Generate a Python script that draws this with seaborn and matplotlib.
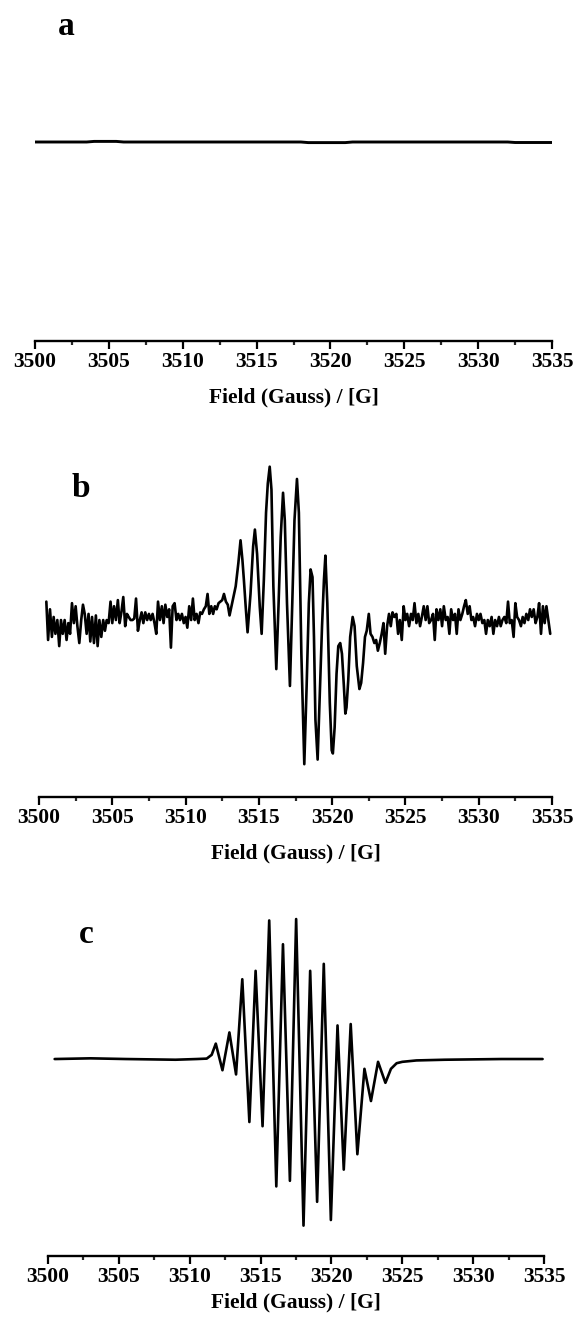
import matplotlib
matplotlib.use("Agg")
import matplotlib.pyplot as plt
import seaborn as sns
from matplotlib.ticker import MultipleLocator

# ---------------- data ----------------
# (a) control sample: flat trace
field_a = [3500.0, 3503.5, 3504.0, 3505.5, 3506.0, 3518.0, 3518.5,
           3521.0, 3521.5, 3532.0, 3532.5, 3535.0]
signal_a = [0.0, 0.0, 0.6, 0.6, 0.0, 0.0, -0.6, -0.6, 0.0, 0.0, -0.5, -0.5]

# (b) noisy spectrum: low-field baseline, hyperfine lines, high-field baseline
field_b_low = [
    3500.50, 3500.62, 3500.75, 3500.88, 3501.00, 3501.12, 3501.25, 3501.38, 3501.50, 3501.62,
    3501.75, 3501.88, 3502.00, 3502.12, 3502.25, 3502.38, 3502.50, 3502.62, 3502.75, 3502.88,
    3503.00, 3503.12, 3503.25, 3503.38, 3503.50, 3503.62, 3503.75, 3503.88, 3504.00, 3504.12,
    3504.25, 3504.38, 3504.50, 3504.62, 3504.75, 3504.88, 3505.00, 3505.12, 3505.25, 3505.38,
    3505.50, 3505.62, 3505.75, 3505.88, 3506.00, 3506.12, 3506.25, 3506.38, 3506.50, 3506.62,
    3506.75, 3506.88, 3507.00, 3507.12, 3507.25, 3507.38, 3507.50, 3507.62, 3507.75, 3507.88,
    3508.00, 3508.12, 3508.25, 3508.38, 3508.50, 3508.62, 3508.75, 3508.88, 3509.00, 3509.12,
    3509.25, 3509.38, 3509.50, 3509.62, 3509.75, 3509.88, 3510.00, 3510.12, 3510.25, 3510.38,
    3510.50, 3510.62, 3510.75, 3510.88, 3511.00, 3511.12, 3511.25, 3511.38, 3511.50, 3511.62,
    3511.75, 3511.88, 3512.00, 3512.12, 3512.25, 3512.38, 3512.50, 3512.62, 3512.75, 3512.88,
    3513.00]
signal_b_low = [
    12, -13, 7, -11, 2, -9, 0, -17, 0, -9,
    0, -13, -2, -9, 11, -2, 9, -4, -15, 0,
    10, 4, -9, 4, -14, 2, -15, 3, -17, 0,
    -11, 0, -7, 0, -2, 12, -2, 9, 0, 13,
    -2, 5, 15, -4, 4, 2, 0, 0, 1, 14,
    -7, 0, 5, -2, 5, 0, 4, 0, 4, -2,
    -9, 12, 0, 9, -2, 10, 2, 7, -18, 9,
    11, 0, 4, 0, 4, -2, 2, -5, 9, 0,
    14, 0, 4, -2, 5, 4, 7, 9, 17, 4,
    9, 4, 9, 7, 11, 12, 13, 17, 12, 10,
    3]

field_b_lines = [
    3513.42, 3513.60, 3513.75, 3513.88, 3513.98, 3514.10, 3514.23, 3514.43, 3514.61, 3514.73,
    3514.88, 3515.06, 3515.19, 3515.34, 3515.49, 3515.61, 3515.74, 3515.86, 3515.99, 3516.19,
    3516.34, 3516.49, 3516.65, 3516.77, 3516.92, 3517.12, 3517.28, 3517.43, 3517.60, 3517.73,
    3517.90, 3518.10, 3518.26, 3518.41, 3518.53, 3518.66, 3518.76, 3518.86, 3519.01, 3519.16,
    3519.31, 3519.44, 3519.54, 3519.67, 3519.84, 3519.97, 3520.05, 3520.17, 3520.30, 3520.42,
    3520.55, 3520.67, 3520.80, 3520.90, 3520.98, 3521.10, 3521.23, 3521.40, 3521.53, 3521.68,
    3521.86, 3521.98, 3522.11, 3522.24, 3522.36]
signal_b_lines = [
    22, 37, 52, 39, 26, 9, -8, 17, 48, 59,
    43, 9, -9, 26, 70, 89, 100, 85, 22, -32,
    9, 54, 83, 65, 11, -43, 11, 65, 92, 70,
    -22, -94, -43, 11, 33, 28, -11, -65, -91, -48,
    -4, 26, 42, 11, -54, -85, -87, -70, -35, -17,
    -15, -22, -43, -61, -57, -39, -11, 2, -4, -30,
    -45, -41, -28, -11, -7]

field_b_high = [
    3522.50, 3522.62, 3522.75, 3522.88, 3523.00, 3523.12, 3523.25, 3523.38, 3523.50, 3523.62,
    3523.75, 3523.88, 3524.00, 3524.12, 3524.25, 3524.38, 3524.50, 3524.62, 3524.75, 3524.88,
    3525.00, 3525.12, 3525.25, 3525.38, 3525.50, 3525.62, 3525.75, 3525.88, 3526.00, 3526.12,
    3526.25, 3526.38, 3526.50, 3526.62, 3526.75, 3526.88, 3527.00, 3527.12, 3527.25, 3527.38,
    3527.50, 3527.62, 3527.75, 3527.88, 3528.00, 3528.12, 3528.25, 3528.38, 3528.50, 3528.62,
    3528.75, 3528.88, 3529.00, 3529.12, 3529.25, 3529.38, 3529.50, 3529.62, 3529.75, 3529.88,
    3530.00, 3530.12, 3530.25, 3530.38, 3530.50, 3530.62, 3530.75, 3530.88, 3531.00, 3531.12,
    3531.25, 3531.38, 3531.50, 3531.62, 3531.75, 3531.88, 3532.00, 3532.12, 3532.25, 3532.38,
    3532.50, 3532.62, 3532.75, 3532.88, 3533.00, 3533.12, 3533.25, 3533.38, 3533.50, 3533.62,
    3533.75, 3533.88, 3534.00, 3534.12, 3534.25, 3534.38, 3534.50, 3534.62, 3534.75, 3534.88]
signal_b_high = [
    4, -9, -11, -15, -13, -20, -15, -9, -2, -22,
    -4, 4, -4, 5, 2, 4, -9, 0, -13, 9,
    0, 4, -4, 4, 0, 11, -2, 4, -4, 2,
    9, 0, 9, -2, 0, 4, -13, 7, 0, 7,
    -4, 9, 0, 2, -9, 7, 0, 4, -9, 7,
    0, 4, 9, 13, 4, 9, 0, 2, -4, 4,
    0, 4, -2, 0, -9, 0, -4, 2, -9, 0,
    -4, 2, -4, 0, 2, -2, 12, -2, 0, -11,
    11, 2, 0, -4, 2, -2, 4, 0, 7, 2,
    7, -2, 2, 11, -9, 9, -2, 9, 0, -9]

# (c) well-resolved spectrum
field_c = [
    3500.47, 3503.00, 3505.50, 3509.00, 3510.50, 3511.20, 3511.55, 3511.84, 3512.31, 3512.80,
    3513.27, 3513.71, 3514.21, 3514.65, 3515.14, 3515.61, 3516.11, 3516.58, 3517.07, 3517.51,
    3518.03, 3518.50, 3518.99, 3519.46, 3519.96, 3520.43, 3520.87, 3521.36, 3521.83, 3522.33,
    3522.79, 3523.29, 3523.81, 3524.20, 3524.60, 3525.00, 3526.00, 3528.00, 3532.00, 3534.90]
signal_c = [
    0.0, 0.5, 0.0, -0.5, 0.0, 0.3, 3, 11, -8, 19,
    -11, 57, -45, 63, -48, 99, -91, 82, -87, 100,
    -119, 63, -102, 68, -115, 24, -79, 25, -68, -7,
    -30, -2, -17, -7, -3, -2, -1, -0.5, 0.0, 0.0]

field_b = field_b_low + field_b_lines + field_b_high
signal_b = signal_b_low + signal_b_lines + signal_b_high

tick_values = [3500, 3505, 3510, 3515, 3520, 3525, 3530, 3535]
x_title = "Field (Gauss) / [G]"
panel_tags = ["a", "b", "c"]

# ---------------- style ----------------
sns.set_theme(style="white")
plt.rcParams["font.family"] = ["Liberation Serif", "DejaVu Serif"]
plt.rcParams["font.weight"] = "bold"
plt.rcParams["axes.labelweight"] = "bold"
plt.rcParams["lines.solid_joinstyle"] = "round"

W, H = 578, 1327
fig = plt.figure(figsize=(W / 100, H / 100), dpi=100)
fig.patch.set_facecolor("white")


def panel(left, right, top, bottom):
    return fig.add_axes([left / W, 1 - bottom / H, (right - left) / W, (bottom - top) / H])


def style_axis(ax, ylim, label_center_px, bottom_px, height_px):
    ax.set_xlim(3500, 3535)
    ax.set_ylim(*ylim)
    ax.set_xticks(tick_values)
    ax.set_xticklabels([str(t) for t in tick_values])
    ax.xaxis.set_minor_locator(MultipleLocator(2.5))
    ax.tick_params(axis="x", which="major", direction="out", length=5.5, width=1.6,
                   pad=2.5, labelsize=15.5, bottom=True, colors="black")
    ax.tick_params(axis="x", which="minor", direction="out", length=3, width=1.6, bottom=True)
    ax.set_yticks([])
    ax.set_ylabel("")
    for side in ["left", "top", "right"]:
        ax.spines[side].set_visible(False)
    ax.spines["bottom"].set_linewidth(1.7)
    ax.spines["bottom"].set_color("black")
    ax.set_facecolor("none")
    ax.set_xlabel(x_title, fontsize=15.5, fontweight="bold", color="black")
    ax.xaxis.set_label_coords(0.5, (bottom_px - label_center_px) / height_px)
    ax.xaxis.label.set_va("center")
    for lbl in ax.get_xticklabels():
        lbl.set_fontweight("bold")


# panel a
ax_a = panel(35, 552, 60, 341)
sns.lineplot(x=field_a, y=signal_a, ax=ax_a, color="black", lw=2.1,
             estimator=None, sort=False)
style_axis(ax_a, (-199, 82), 397, 341, 281)

# panel b
ax_b = panel(39, 552, 440, 797)
sns.lineplot(x=field_b, y=signal_b, ax=ax_b, color="black", lw=1.9,
             estimator=None, sort=False)
style_axis(ax_b, (-115.4, 117.4), 853, 797, 357)

# panel c
ax_c = panel(48, 544, 900, 1256)
sns.lineplot(x=field_c, y=signal_c, ax=ax_c, color="black", lw=1.9,
             estimator=None, sort=False)
style_axis(ax_c, (-140.7, 113.6), 1302, 1256, 356)

# panel tags
for tag, (px, py) in zip(panel_tags, [(58, 35), (72, 497), (79, 943)]):
    fig.text(px / W, 1 - py / H, tag, fontsize=24, fontweight="bold",
             ha="left", va="baseline", color="black")

fig.savefig("out.png", dpi=100, facecolor="white")
